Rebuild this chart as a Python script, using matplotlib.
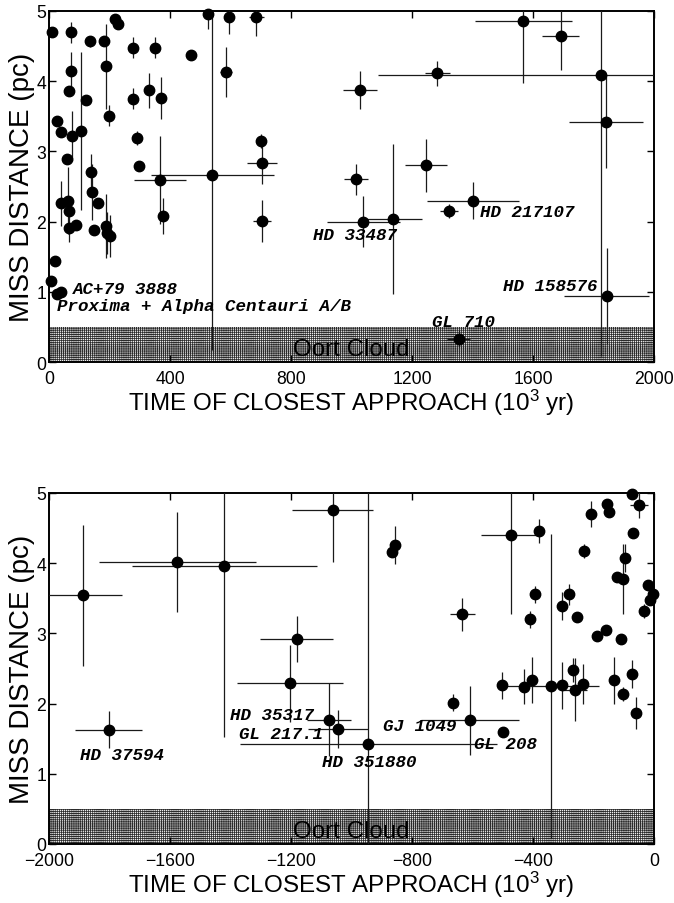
import matplotlib
matplotlib.use("Agg")
import matplotlib.pyplot as plt
import numpy as np

plt.rcParams['font.family'] = ['Liberation Sans', 'DejaVu Sans']
plt.rcParams['mathtext.default'] = 'regular'
plt.rcParams['hatch.linewidth'] = 0.55

# ---------------- data: future approaches (top panel) ----------------
top_time = [11, 74, 134, 182, 187, 217, 228, 277, 350, 72, 66, 123, 279, 331, 369,
            28, 198, 39, 77, 105, 60, 292, 298, 366, 378, 39, 63, 66, 66, 88,
            138, 143, 163, 149, 187, 193, 202, 19, 8, 27, 39,
            527, 540, 595, 685, 470, 586, 700, 703, 703,
            1568, 1691, 1284, 1826, 1840, 1027, 1247, 1016, 1402, 1323, 1039, 1136, 1843, 1355]
top_dist = [4.70, 4.70, 4.57, 4.57, 4.21, 4.88, 4.82, 4.48, 4.48, 4.14, 3.86, 3.73, 3.75, 3.87, 3.76,
            3.44, 3.51, 3.27, 3.22, 3.29, 2.89, 3.19, 2.79, 2.59, 2.08, 2.26, 2.30, 2.15, 1.91, 1.95,
            2.70, 2.42, 2.27, 1.88, 1.94, 1.84, 1.79, 1.44, 1.15, 0.97, 1.00,
            4.96, 2.67, 4.92, 4.92, 4.37, 4.13, 3.15, 2.84, 2.01,
            4.86, 4.64, 4.11, 4.09, 3.42, 3.87, 2.80, 2.60, 2.30, 2.15, 2.00, 2.04, 0.94, 0.33]
top_time_err = [0, 0, 8, 15, 0, 0, 0, 0, 0, 0, 0, 0, 0, 0, 0,
                0, 0, 0, 0, 0, 0, 0, 0, 86, 0, 0, 0, 0, 0, 0,
                0, 10, 0, 0, 0, 10, 0, 0, 0, 0, 0,
                0, 204, 0, 25, 0, 20, 0, 50, 30,
                160, 62, 42, 738, 122, 56, 70, 40, 153, 30, 121, 97, 140, 38]
top_dist_err = [0, 0.15, 0.08, 0.05, 0.6, 0, 0, 0.15, 0.15, 0.28, 0, 0, 0.15, 0.25, 0.3,
                0, 0.15, 0, 0.35, 1.13, 0, 0.1, 0, 0.63, 0.25, 0.32, 0.48, 0, 0.2, 0,
                0.26, 0.4, 0, 0.05, 0.46, 0.3, 0.3, 0, 0, 0, 0,
                0.22, 2.5, 0.25, 0.28, 0.05, 0.36, 0.1, 0.3, 0.3,
                0.88, 0.48, 0.18, 4.0, 0.65, 0.27, 0.38, 0.22, 0.27, 0.1, 0.36, 1.07, 0.69, 0.12]

top_labels = ["AC+79 3888", "Proxima + Alpha Centauri A/B", "HD 33487",
              "HD 217107", "HD 158576", "GL 710"]
top_label_x = [80, 27, 874, 1425, 1502, 1265]
top_label_y = [1.04, 0.80, 1.82, 2.15, 1.09, 0.58]

# ---------------- data: past approaches (bottom panel) ----------------
bot_time = [-1887, -1802, -1576, -1420, -1062, -1181, -1204, -1075, -1044, -944,
            -856, -867, -665, -608, -498, -634, -473, -380, -342, -503,
            -429, -404, -303, -269, -261, -236, -132, -104, -74, -61,
            -410, -305, -254, -190, -159, -109, -32, -13, -19, -3,
            -393, -281, -209, -154, -149, -72, -50, -68, -231, -95, -101, -121]
bot_dist = [3.54, 1.63, 4.02, 3.96, 4.76, 2.92, 2.29, 1.77, 1.64, 1.42,
            4.26, 4.16, 2.01, 1.76, 1.59, 3.27, 4.40, 4.46, 2.25, 2.26,
            2.24, 2.34, 2.26, 2.48, 2.20, 2.28, 2.33, 2.13, 2.42, 1.87,
            3.20, 3.39, 3.24, 2.97, 3.05, 2.92, 3.32, 3.47, 3.69, 3.56,
            3.56, 3.56, 4.70, 4.84, 4.73, 4.99, 4.83, 4.43, 4.18, 4.07, 3.78, 3.81]
bot_time_err = [128, 111, 259, 305, 134, 120, 176, 72, 100, 425,
                0, 0, 0, 163, 0, 42, 100, 0, 160, 15,
                0, 0, 0, 0, 40, 0, 0, 0, 0, 0,
                0, 0, 0, 0, 0, 0, 0, 0, 0, 0,
                0, 0, 0, 0, 0, 0, 30, 0, 0, 0, 0, 0]
bot_dist_err = [1.01, 0.26, 0.71, 2.43, 0.75, 0.33, 0.55, 0.52, 0.27, 3.6,
                0.27, 0, 0.12, 0.49, 0, 0.24, 1.13, 0.17, 2.17, 0.19,
                0.25, 0.33, 0.33, 0.17, 0.45, 0.28, 0.33, 0.1, 0.2, 0.23,
                0.12, 0.2, 0, 0, 0.07, 0, 0.1, 0, 0, 0,
                0.12, 0.15, 0.19, 0, 0, 0, 0.18, 0, 0.1, 0.2, 0.5, 0]

bot_labels = ["HD 37594", "HD 35317", "GL 217.1", "HD 351880", "GJ 1049", "GL 208"]
bot_label_x = [-1898, -1400, -1372, -1099, -897, -595]
bot_label_y = [1.28, 1.84, 1.58, 1.18, 1.69, 1.43]

OORT_TOP = 0.5

fig = plt.figure(figsize=(6.74, 9.04), dpi=100)
W, H = 674.0, 904.0
ax_top = fig.add_axes([49 / W, 1 - 363 / H, 605 / W, 351 / H])
ax_bot = fig.add_axes([49 / W, 1 - 845 / H, 605 / W, 351 / H])

label_font = dict(family='Liberation Mono', weight='bold', style='italic', size=12.6)


def draw_panel(ax, t, d, te, de, labels, lx, ly, xlim, xticks):
    ax.set_xlim(*xlim)
    ax.set_ylim(0, 5)
    # Oort cloud band
    ax.fill_between(xlim, 0, OORT_TOP, facecolor='#f0f0f0', edgecolor='#2a2a2a',
                    hatch='++++++++', linewidth=0, zorder=1)
    ax.text(np.mean(xlim), 0.18, 'Oort Cloud',
            ha='center', va='center', fontsize=17.4, zorder=2)
    ax.errorbar(t, d, xerr=te, yerr=de, fmt='none', ecolor='#1a1a1a',
                elinewidth=0.9, capsize=0, zorder=3)
    ax.plot(t, d, 'o', color='black', markersize=7.5, clip_on=False, zorder=4)
    for s, x, y in zip(labels, lx, ly):
        ax.text(x, y, s, ha='left', va='center', zorder=5, **label_font)
    ax.set_xticks(xticks)
    ax.set_yticks([0, 1, 2, 3, 4, 5])
    ax.tick_params(direction='in', top=True, right=True, length=5, width=1,
                   labelsize=12.7)
    ax.tick_params(axis='x', pad=5.5)
    ax.tick_params(axis='y', pad=2)
    for sp in ax.spines.values():
        sp.set_linewidth(1.4)
    ax.set_xlabel('TIME OF CLOSEST APPROACH (10$^{3}$ yr)', fontsize=17.4, labelpad=0)
    ax.set_ylabel('MISS DISTANCE (pc)', fontsize=20, labelpad=1)


draw_panel(ax_top, top_time, top_dist, top_time_err, top_dist_err,
           top_labels, top_label_x, top_label_y, (0, 2000), [0, 400, 800, 1200, 1600, 2000])
draw_panel(ax_bot, bot_time, bot_dist, bot_time_err, bot_dist_err,
           bot_labels, bot_label_x, bot_label_y, (-2000, 0), [-2000, -1600, -1200, -800, -400, 0])

fig.savefig('out.png', dpi=100)
